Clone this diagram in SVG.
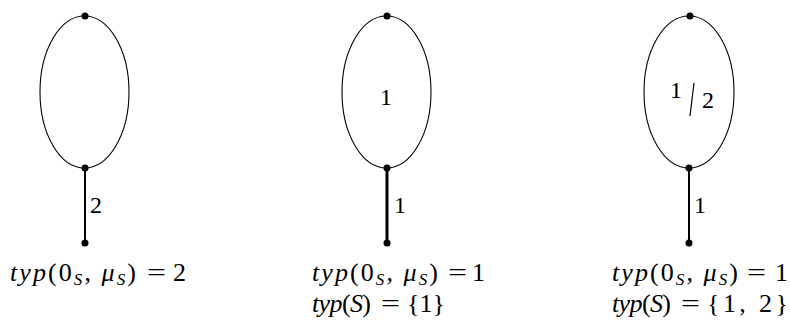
<svg xmlns="http://www.w3.org/2000/svg" width="790" height="326" viewBox="0 0 790 326">
<style>
.loop{fill:none;stroke:#000;stroke-width:1.1}
.stem{stroke:#000;stroke-width:2}
.stem.thick{stroke-width:3}
.dot{fill:#000}
text{font-family:"Liberation Serif","Times New Roman",serif;font-size:24px;fill:#000}
.m{font-size:26px}
.it{font-style:italic}
.sub{font-style:italic;font-size:17px}
</style>
<rect width="790" height="326" fill="#fff"/>
<g id="connectors">
<ellipse class="loop" cx="84.5" cy="92" rx="44.5" ry="76"/>
<line class="stem" x1="85" y1="168" x2="85" y2="243"/>
<ellipse class="loop" cx="386.5" cy="92" rx="44.5" ry="76"/>
<line class="stem thick" x1="387" y1="168" x2="387" y2="243"/>
<ellipse class="loop" cx="689" cy="92" rx="45" ry="76"/>
<line class="stem" x1="689" y1="168" x2="689" y2="243"/>
<line x1="694" y1="83" x2="690" y2="116" stroke="#000" stroke-width="1.2"/>
</g>
<g id="node-a1"><circle class="dot" cx="85" cy="16" r="3.5"/></g>
<g id="node-a2"><circle class="dot" cx="85" cy="168" r="3.5"/></g>
<g id="node-a3"><circle class="dot" cx="85" cy="243" r="3.5"/></g>
<g id="node-b1"><circle class="dot" cx="387" cy="16" r="3.5"/></g>
<g id="node-b2"><circle class="dot" cx="387" cy="168" r="3.5"/></g>
<g id="node-b3"><circle class="dot" cx="387" cy="243" r="3.5"/></g>
<g id="node-c1"><circle class="dot" cx="690" cy="16" r="3.5"/></g>
<g id="node-c2"><circle class="dot" cx="689" cy="168" r="3.5"/></g>
<g id="node-c3"><circle class="dot" cx="689" cy="243" r="3.5"/></g>
<g id="labels">
<text x="90" y="213">2</text>
<text x="380" y="105">1</text>
<text x="394" y="213">1</text>
<text x="670" y="98">1</text>
<text x="702" y="108">2</text>
<text x="694" y="213">1</text>

<text class="m" x="10" y="281" textLength="126"><tspan class="it">typ</tspan>(0<tspan class="sub" dy="4">S</tspan><tspan dy="-4">, </tspan><tspan class="it">μ</tspan><tspan class="sub" dy="4">S</tspan><tspan dy="-4">)</tspan></text>
<text class="m" x="147" y="281" textLength="19" lengthAdjust="spacingAndGlyphs">=</text>
<text class="m" x="173" y="281">2</text>

<text class="m" x="312" y="281" textLength="126"><tspan class="it">typ</tspan>(0<tspan class="sub" dy="4">S</tspan><tspan dy="-4">, </tspan><tspan class="it">μ</tspan><tspan class="sub" dy="4">S</tspan><tspan dy="-4">)</tspan></text>
<text class="m" x="448" y="281" textLength="19" lengthAdjust="spacingAndGlyphs">=</text>
<text class="m" x="472" y="281">1</text>
<text class="m" x="312" y="312" textLength="59"><tspan class="it">typ</tspan>(<tspan class="it">S</tspan>)</text>
<text class="m" x="381" y="312" textLength="19" lengthAdjust="spacingAndGlyphs">=</text>
<text class="m" x="407" y="312">{1}</text>

<text class="m" x="612" y="281" textLength="126"><tspan class="it">typ</tspan>(0<tspan class="sub" dy="4">S</tspan><tspan dy="-4">, </tspan><tspan class="it">μ</tspan><tspan class="sub" dy="4">S</tspan><tspan dy="-4">)</tspan></text>
<text class="m" x="747" y="281" textLength="19" lengthAdjust="spacingAndGlyphs">=</text>
<text class="m" x="775" y="281">1</text>
<text class="m" x="612" y="312" textLength="59"><tspan class="it">typ</tspan>(<tspan class="it">S</tspan>)</text>
<text class="m" x="681" y="312" textLength="19" lengthAdjust="spacingAndGlyphs">=</text>
<text class="m" x="707" y="312" textLength="81">{1, 2}</text>
</g>
</svg>
